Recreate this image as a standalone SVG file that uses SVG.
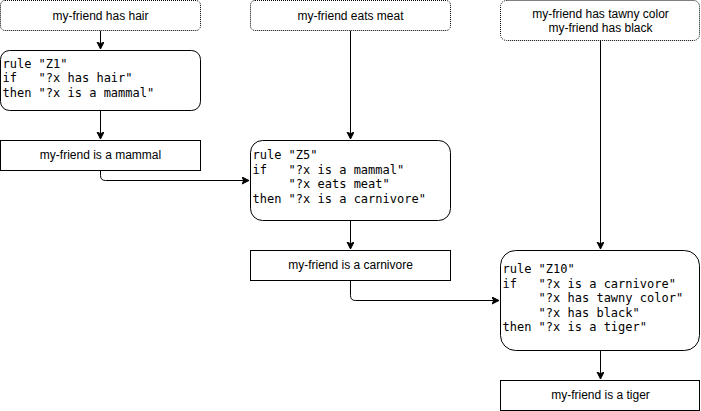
<svg xmlns="http://www.w3.org/2000/svg" width="701" height="411" viewBox="0 0 701 411">
<defs>
<style>
.box{fill:#fff;stroke:#000;stroke-width:1}
.dot{fill:#fff;stroke:#000;stroke-width:1;stroke-dasharray:1 1}
.lbl{font-family:"Liberation Sans",Arial,sans-serif;font-size:12px;fill:#000;text-anchor:middle}
.code{font-family:"DejaVu Sans Mono",monospace;font-size:12px;fill:#000;white-space:pre}
.edge{fill:none;stroke:#000;stroke-width:1}
</style>
<marker id="arr" markerUnits="userSpaceOnUse" markerWidth="10" markerHeight="10" refX="7" refY="3.5" orient="auto">
<path d="M0,0 L7,3.5 L0,7 L1.75,3.5 Z" fill="#000" stroke="#000" stroke-width="1"/>
</marker>
</defs>
<g id="edges">
<path class="edge" d="M100.5,30.5 V49" marker-end="url(#arr)"/>
<path class="edge" d="M100.5,110.5 V139" marker-end="url(#arr)"/>
<path class="edge" d="M100.5,170.5 V175.5 Q100.5,180.5 105.5,180.5 H249" marker-end="url(#arr)"/>
<path class="edge" d="M350.5,30.5 V139" marker-end="url(#arr)"/>
<path class="edge" d="M350.5,220.5 V249" marker-end="url(#arr)"/>
<path class="edge" d="M350.5,280.5 V295.5 Q350.5,300.5 355.5,300.5 H499" marker-end="url(#arr)"/>
<path class="edge" d="M600.5,40.5 V249" marker-end="url(#arr)"/>
<path class="edge" d="M600.5,350.5 V379" marker-end="url(#arr)"/>
</g>
<g id="hair">
<rect class="dot" x="0.5" y="0.5" width="200" height="30" rx="4.5"/>
<text class="lbl" x="100.5" y="19.5">my-friend has hair</text>
</g>
<g id="z1">
<rect class="box" x="0.5" y="50.5" width="200" height="60" rx="9"/>
<text class="code" x="2.5" y="67.5">rule "Z1"</text>
<text class="code" x="2.5" y="82">if   "?x has hair"</text>
<text class="code" x="2.5" y="96.5">then "?x is a mammal"</text>
</g>
<g id="mammal">
<rect class="box" x="0.5" y="140.5" width="200" height="30"/>
<text class="lbl" x="100.5" y="159">my-friend is a mammal</text>
</g>
<g id="meat">
<rect class="dot" x="250.5" y="0.5" width="200" height="30" rx="4.5"/>
<text class="lbl" x="350.5" y="19.5">my-friend eats meat</text>
</g>
<g id="z5">
<rect class="box" x="250.5" y="140.5" width="200" height="80" rx="12"/>
<text class="code" x="252.5" y="159">rule "Z5"</text>
<text class="code" x="252.5" y="173.5">if   "?x is a mammal"</text>
<text class="code" x="252.5" y="188">     "?x eats meat"</text>
<text class="code" x="252.5" y="202.5">then "?x is a carnivore"</text>
</g>
<g id="carnivore">
<rect class="box" x="250.5" y="250.5" width="200" height="30"/>
<text class="lbl" x="350.5" y="268.5">my-friend is a carnivore</text>
</g>
<g id="tawny">
<rect class="dot" x="500.5" y="0.5" width="199" height="40" rx="6"/>
<text class="lbl" x="600.5" y="17.5">my-friend has tawny color</text>
<text class="lbl" x="600.5" y="31.5">my-friend has black</text>
</g>
<g id="z10">
<rect class="box" x="500.5" y="250.5" width="199" height="100" rx="15"/>
<text class="code" x="502.5" y="273">rule "Z10"</text>
<text class="code" x="502.5" y="287.5">if   "?x is a carnivore"</text>
<text class="code" x="502.5" y="302">     "?x has tawny color"</text>
<text class="code" x="502.5" y="316.5">     "?x has black"</text>
<text class="code" x="502.5" y="331">then "?x is a tiger"</text>
</g>
<g id="tiger">
<rect class="box" x="500.5" y="380.5" width="199" height="30"/>
<text class="lbl" x="600.5" y="398.5">my-friend is a tiger</text>
</g>
</svg>
